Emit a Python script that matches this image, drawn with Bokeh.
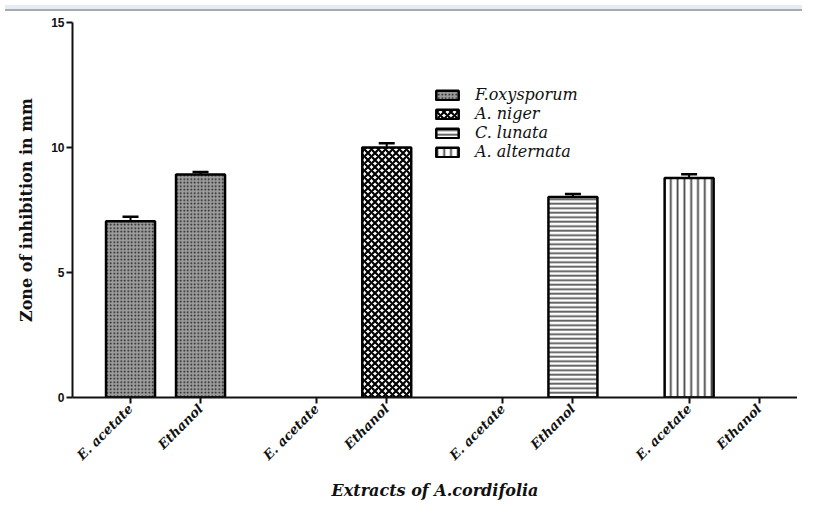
import math
from bokeh.plotting import figure
from bokeh.models import (ColumnDataSource, FixedTicker, Whisker, TeeHead, Legend,
                          LegendItem, Div, Range1d)
from bokeh.layouts import column
from bokeh.embed import file_html
from bokeh.resources import INLINE

# ---------------- data ----------------
fungi = ["F.oxysporum", "A. niger", "C. lunata", "A. alternata"]
solvents = ["E. acetate", "Ethanol"]
eacetate_mean = [7.05, 0.0, 0.0, 8.78]
eacetate_err = [0.18, 0.0, 0.0, 0.15]
ethanol_mean = [8.92, 10.0, 8.02, 0.0]
ethanol_err = [0.10, 0.17, 0.12, 0.0]
y_ticks = [0, 5, 10, 15]
y_title = "Zone of inhibition in mm"
x_title = "Extracts of A.cordifolia"

GROUP_STEP = 2.66
BAR_W = 0.7

means = [eacetate_mean, ethanol_mean]
errs = [eacetate_err, ethanol_err]

def pos(g, s):
    return g * GROUP_STEP + s

SERIF = "DejaVu Serif"
SANS = "Liberation Sans"

styles = [
    dict(fill_color="#9c9c9c", hatch_pattern="dot", hatch_scale=3.5, hatch_color="#141414"),
    dict(fill_color="white", hatch_pattern="diagonal_cross", hatch_scale=7, hatch_weight=2.2,
         hatch_color="black"),
    dict(fill_color="white", hatch_pattern="horizontal_line", hatch_scale=4.5, hatch_weight=1.8,
         hatch_color="#555555"),
    dict(fill_color="white", hatch_pattern="vertical_line", hatch_scale=6.8, hatch_weight=1.8,
         hatch_color="#444444"),
]

FIG_W = 797
LEFT = 72
x_start = -0.829
x_end = x_start + (FIG_W - LEFT) / 70.0

p = figure(width=FIG_W, height=488, output_backend="svg", toolbar_location=None,
           x_range=Range1d(x_start, x_end), y_range=Range1d(0, 15),
           min_border_left=LEFT, min_border_right=0, min_border_top=6, min_border_bottom=107)
p.outline_line_color = None
p.grid.visible = False
p.background_fill_color = "white"
p.border_fill_color = "white"

legend_items = []
for g, name in enumerate(fungi):
    xs, tops, lows, ups = [], [], [], []
    for s in range(len(solvents)):
        v = means[s][g]
        if v > 0:
            xs.append(pos(g, s))
            tops.append(v)
            lows.append(v)
            ups.append(v + errs[s][g])
    src = ColumnDataSource(dict(x=xs, top=tops))
    r = p.vbar(x="x", top="top", width=BAR_W, bottom=0, source=src,
               line_color="black", line_width=2.5, **styles[g])
    legend_items.append(LegendItem(label=name, renderers=[r]))
    esrc = ColumnDataSource(dict(x=xs, lower=lows, upper=ups))
    w = Whisker(source=esrc, base="x", lower="lower", upper="upper", dimension="height",
                line_width=2, line_color="black", lower_head=None,
                upper_head=TeeHead(size=16, line_width=2.5, line_color="black"))
    p.add_layout(w)

legend = Legend(items=legend_items, location=(361, 236), padding=0, margin=0,
                border_line_alpha=0, background_fill_alpha=0,
                glyph_width=28, glyph_height=12, label_standoff=14, spacing=0,
                label_height=12, label_text_line_height=1.0,
                label_text_font=SERIF, label_text_font_style="italic",
                label_text_font_size="16px", label_text_color="#111111")
p.add_layout(legend, "center")

# axes
tick_pos = [pos(g, s) for g in range(len(fungi)) for s in range(len(solvents))]
tick_lab = [solvents[s] for g in range(len(fungi)) for s in range(len(solvents))]
p.xaxis.ticker = FixedTicker(ticks=tick_pos)
p.xaxis.major_label_overrides = {t: l for t, l in zip(tick_pos, tick_lab)}
p.xaxis.major_label_orientation = math.pi / 4
p.xaxis.major_label_standoff = 3
p.xaxis.major_label_text_font = SERIF
p.xaxis.major_label_text_font_style = "bold italic"
p.xaxis.major_label_text_font_size = "13px"
p.xaxis.axis_label = x_title
p.xaxis.axis_label_text_font = SERIF
p.xaxis.axis_label_text_font_style = "bold italic"
p.xaxis.axis_label_text_font_size = "16px"
p.xaxis.axis_label_standoff = 10

p.yaxis.ticker = FixedTicker(ticks=y_ticks)
p.yaxis.major_label_text_font = SANS
p.yaxis.major_label_text_font_style = "bold"
p.yaxis.major_label_text_font_size = "12px"
p.yaxis.major_label_standoff = 2
p.yaxis.axis_label = y_title
p.yaxis.axis_label_text_font = SERIF
p.yaxis.axis_label_text_font_style = "bold"
p.yaxis.axis_label_text_font_size = "16px"
p.yaxis.axis_label_standoff = 12

for ax in (p.xaxis, p.yaxis):
    ax.axis_line_width = 2
    ax.axis_line_color = "#111111"
    ax.major_tick_line_width = 2
    ax.major_tick_line_color = "#111111"
    ax.major_tick_out = 6
    ax.major_tick_in = 0
    ax.minor_tick_out = 0
    ax.minor_tick_in = 0
    ax.major_label_text_color = "#111111"
    ax.axis_label_text_color = "#111111"

band = Div(text="", width=FIG_W, height=6,
           styles={"background-color": "#e6ecf4", "border-bottom": "2px solid #a7abaf",
                   "box-sizing": "border-box"})

layout = column(band, p, spacing=0)
open("out.html", "w").write(file_html(layout, INLINE))
